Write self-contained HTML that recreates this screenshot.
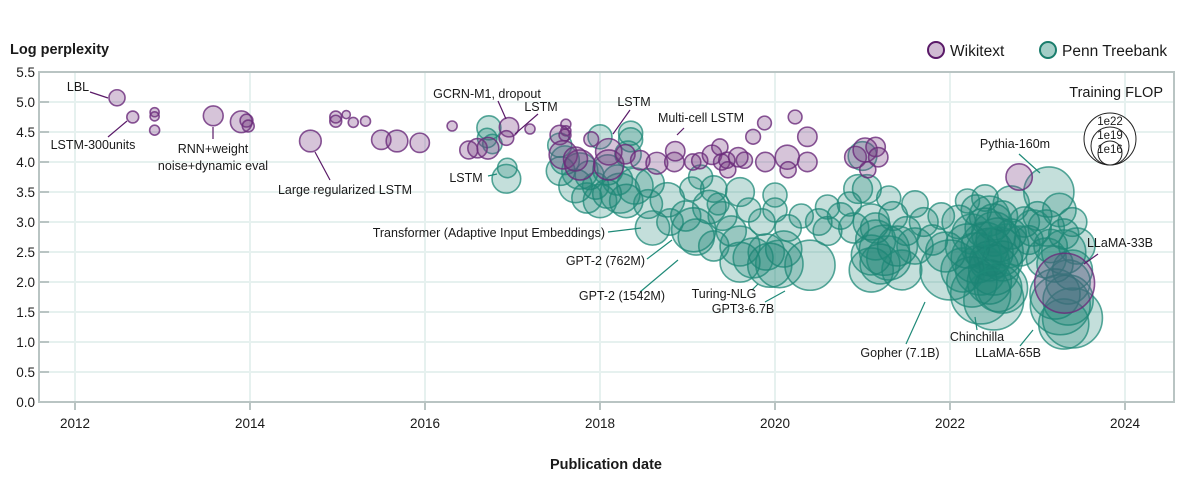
<!DOCTYPE html>
<html><head><meta charset="utf-8"><style>
body{margin:0;background:#fff;font-family:"Liberation Sans",sans-serif;}
svg text{font-family:"Liberation Sans",sans-serif;fill:#1a1a1a;}
</style></head><body>
<svg id="chart" width="1183" height="492" viewBox="0 0 1183 492" xmlns="http://www.w3.org/2000/svg">
<g id="grid"></g>
<rect x="39" y="72" width="1135" height="330" fill="none" stroke="#b9c4c3" stroke-width="2"/>
<g id="ticks"></g>
<g id="bubbles"></g>
<g id="annot" font-size="12.5" stroke-width="1"></g>
<text x="10" y="54" font-size="14.5" font-weight="bold">Log perplexity</text>
<text x="606" y="469" font-size="14.5" font-weight="bold" text-anchor="middle">Publication date</text>
<g>
<circle cx="936" cy="50" r="8" fill="rgba(120,60,130,0.35)" stroke="#5a1a68" stroke-width="2"/>
<text x="950" y="56" font-size="15.5">Wikitext</text>
<circle cx="1048" cy="50" r="8" fill="rgba(26,133,115,0.4)" stroke="#1a7d6c" stroke-width="2"/>
<text x="1062" y="56" font-size="15.5">Penn Treebank</text>
</g>
<g id="sizeLegend">
<text x="1163" y="97" font-size="14.5" text-anchor="end">Training FLOP</text>
</g>
</svg>
<script>
const wikiDates=[2012.48,2012.66,2012.91,2012.91,2012.91,2013.58,2013.9,2013.96,2013.98,2014.69,
2014.98,2014.98,2015.1,2015.18,2015.32,2015.5,2015.68,2015.94,2016.31,2016.5,
2016.6,2016.72,2016.96,2016.93,2017.2,2017.61,2017.61,2017.6,2017.54,2017.58,
2017.77,2017.72,2017.9,2018.1,2018.1,2018.29,2018.46,2018.65,2018.85,2018.86,
2019.06,2019.14,2019.28,2019.37,2019.39,2019.45,2019.46,2019.65,2019.58,2019.89,
2019.88,2019.75,2020.23,2020.37,2020.14,2020.37,2020.15,2020.92,2021.03,2021.15,
2021.18,2021.06,2022.79,2023.31];
const wikiValues=[5.07,4.75,4.83,4.76,4.53,4.77,4.67,4.69,4.6,4.35,
4.75,4.68,4.79,4.66,4.68,4.37,4.35,4.32,4.6,4.2,
4.23,4.23,4.58,4.4,4.55,4.63,4.52,4.45,4.45,4.12,
3.95,4.05,4.38,4.17,3.95,4.13,4.03,3.98,4.0,4.18,
4.0,4.02,4.12,4.25,4.0,4.03,3.87,4.03,4.08,4.0,
4.65,4.42,4.75,4.42,4.08,4.0,3.87,4.08,4.2,4.25,
4.08,3.87,3.75,1.98];
const wikiFlop=[14.3,13.4,12.8,12.8,13,15.1,15.5,13.6,13.4,15.5,
13.4,13.4,12.6,13,13,15,15.5,15,13,14.7,
15,15.5,15,14,13,13,13,13.4,15,16.9,
17.3,16,14,16.5,17.3,15,15,15.5,15,15,
14.3,14.3,15,14.3,14.3,14.3,14.3,14.3,15,15,
13.8,14,13.8,15,16,15,14.3,15.5,16,15,
15,14.3,16.5,23.7];
const ptbDates=[2016.73,2016.71,2016.77,2016.94,2016.93,2017.54,2017.6,2017.55,2017.72,2017.77,
2017.88,2018.0,2018.09,2018.08,2018.35,2018.35,2018.32,2018.23,2018.3,2018.57,
2018.4,2018.77,2018.6,2019.07,2018.98,2019.25,2019.3,2019.15,2019.4,2019.5,
2019.6,2019.94,2020.4,2020.1,2019.7,2019.85,2020.0,2020.15,2020.3,2020.5,
2020.6,2020.75,2020.85,2019.6,2019.35,2020.0,2021.0,2021.05,2021.1,2021.15,
2021.25,2021.2,2021.4,2021.35,2021.5,2021.3,2021.6,2021.7,2021.8,2021.9,
2022.0,2021.95,2022.1,2022.2,2022.25,2022.35,2022.3,2022.4,2022.45,2022.5,
2022.5,2022.55,2022.6,2022.6,2022.7,2022.4,2022.2,2022.7,2022.85,2022.9,
2023.0,2023.13,2023.1,2023.15,2023.2,2023.26,2023.2,2023.35,2023.4,2023.3,
2023.4,2022.45,2022.55,2022.45,2021.1,2019.9,2019.05,2018.55,2018.8,2017.95,
2021.1,2021.15,2021.3,2021.45,2021.6,2022.3,2022.4,2022.5,2022.45,2022.55,
2022.6,2022.35,2022.25,2022.15,2022.65,2022.5,2023.3,2023.35,2023.4,2023.45,
2023.25,2023.1,2023.3,2022.95,2022.8,2019.1,2019.3,2019.6,2019.75,2020.05,
2020.6,2020.9,2020.95,2018.0,2018.2,2017.85];
const ptbValues=[4.57,4.4,4.3,3.9,3.72,4.28,4.03,3.85,3.6,3.85,
3.78,4.42,3.87,3.47,4.48,4.37,4.13,3.48,3.35,3.65,
3.6,3.37,2.9,2.87,3.1,3.25,3.55,3.75,3.1,2.85,
2.33,2.28,2.28,2.55,3.2,3.0,3.2,2.9,3.1,3.0,
3.25,3.1,3.3,3.5,3.3,3.45,4.1,3.55,3.0,2.9,
2.53,2.3,2.6,3.1,2.85,3.4,3.3,3.0,2.7,3.1,
2.2,2.5,3.0,2.6,2.0,1.8,3.2,2.9,2.5,2.2,
3.0,2.7,2.35,3.1,2.8,3.4,3.35,3.3,3.0,2.7,
3.1,3.5,2.9,2.6,2.3,1.62,1.8,1.7,2.2,2.8,
3.0,2.0,1.9,2.35,2.45,2.5,3.55,3.3,3.0,3.6,
2.2,2.7,2.4,2.2,2.6,2.4,2.6,2.8,3.1,2.5,
1.9,2.2,2.8,2.2,2.6,1.7,2.5,2.0,1.4,2.6,
3.2,2.4,1.3,2.9,2.6,2.75,2.6,2.6,2.4,2.3,
2.85,2.9,3.55,3.35,3.7,3.4];
const ptbFlop=[16,15,15,15,17,16,17,17,18,18.6,
17,16,17.3,17,16,16,16.5,19.4,18,17,
18.6,18.2,18.2,20.3,17.3,18,16.5,16,17,17.3,
19.4,20.3,21.6,18.6,16,16.5,16,16.5,16,16.5,
16,16.5,16,17,15.5,16,17,17,18.6,17.3,
21.6,19.4,19.4,17,17,16,16.5,17,17.3,16.5,
23.7,19.4,18,20.3,21.6,23.7,17.3,19.4,21,21.6,
18.6,20.3,19.4,17.3,17.3,16.5,16,18.6,17.3,17,
17,21.6,18.6,18,18.6,23.7,21.6,21.6,19.4,17.3,
17,20.3,21,19.4,19.4,18.6,16,17,16.5,16.5,
20.3,19.4,20.3,19.4,18.6,21.6,21,20.3,19.4,21.6,
21.6,21.6,19.4,20.3,20.3,23.7,20.3,20.3,23.7,18.6,
18,19.4,21.6,18.6,19.4,18.6,17.3,19.4,19.4,21,
17,17.3,17,18,17.3,17.3];
const yTicks=[0,0.5,1,1.5,2,2.5,3,3.5,4,4.5,5,5.5];
const yTickLabels=["0.0","0.5","1.0","1.5","2.0","2.5","3.0","3.5","4.0","4.5","5.0","5.5"];
const xTicks=[2012,2014,2016,2018,2020,2022,2024];
const sizeLegendFlop=[22,19,16];
const sizeLegendLabels=["1e22","1e19","1e16"];

const NS="http://www.w3.org/2000/svg";
function xs(t){return 75+(t-2012)*87.5;}
function ys(v){return 402-v*60;}
function rs(f){return Math.max(3,12+(f-16)*2.33);}
function mk(tag,attrs,parent){const e=document.createElementNS(NS,tag);for(const k in attrs)e.setAttribute(k,attrs[k]);parent.appendChild(e);return e;}
const grid=document.getElementById('grid'),ticks=document.getElementById('ticks');
yTicks.forEach((v,i)=>{
  const l=mk('line',{x1:39,x2:1174,y1:ys(v),y2:ys(v),stroke:'#e6f1ef','stroke-width':2},grid);
  
  
  const t=mk('line',{x1:39,x2:49,y1:ys(v),y2:ys(v),stroke:'#b9c4c3','stroke-width':2},ticks);
  
  
  const tx=mk('text',{x:35,y:ys(v)+5,'font-size':13.5,'text-anchor':'end'},ticks);
  tx.textContent=yTickLabels[i];
  
  
});
xTicks.forEach(t=>{
  const l=mk('line',{x1:xs(t),x2:xs(t),y1:72,y2:402,stroke:'#e6f1ef','stroke-width':2},grid);
  
  
  const k=mk('line',{x1:xs(t),x2:xs(t),y1:402,y2:410,stroke:'#b9c4c3','stroke-width':2},ticks);
  
  
  const tx=mk('text',{x:xs(t),y:428,'font-size':13.5,'text-anchor':'middle'},ticks);
  tx.textContent=t;
  
  
});
const bub=document.getElementById('bubbles');
ptbDates.forEach((d,i)=>{
  const c=mk('circle',{cx:xs(d),cy:ys(ptbValues[i]),r:rs(ptbFlop[i]),fill:'rgba(26,133,115,0.26)',stroke:'#1f8a78','stroke-opacity':0.75,'stroke-width':1.6},bub);
  
  
});
wikiDates.forEach((d,i)=>{
  const c=mk('circle',{cx:xs(d),cy:ys(wikiValues[i]),r:rs(wikiFlop[i]),fill:'rgba(120,60,130,0.3)',stroke:'#6a2a7a','stroke-opacity':0.8,'stroke-width':1.6},bub);
  
  
});
const sl=document.getElementById('sizeLegend');
sizeLegendFlop.forEach((f,i)=>{
  const r=rs(f);
  const c=mk('circle',{cx:1110,cy:165-r,r:r,fill:'#fff',stroke:'#222','stroke-width':1},sl);
  
  
  const t=mk('text',{x:1110,y:165-2*r+12,'font-size':11.5,'text-anchor':'middle'},sl);
  t.textContent=sizeLegendLabels[i];
  
  
});
const annots=[
 ["LBL",78,91,"middle",[90,92,108,98],"#5a1a68"],
 ["LSTM-300units",93,149,"middle",[108,137,127,121],"#5a1a68"],
 ["RNN+weight",213,153,"middle",[213,127,213,139],"#5a1a68"],
 ["noise+dynamic eval",213,170,"middle",null,""],
 ["Large regularized LSTM",345,194,"middle",[315,152,330,180],"#5a1a68"],
 ["GCRN-M1, dropout",487,98,"middle",[498,101,506,119],"#5a1a68"],
 ["LSTM",541,111,"middle",[538,114,515,134],"#5a1a68"],
 ["LSTM",466,182,"middle",[488,176,497,174],"#1f8a78"],
 ["LSTM",634,106,"middle",[630,110,613,134],"#5a1a68"],
 ["Multi-cell LSTM",701,122,"middle",[684,128,677,135],"#5a1a68"],
 ["Pythia-160m",1015,148,"middle",[1019,154,1040,173],"#1f8a78"],
 ["Transformer (Adaptive Input Embeddings)",605,237,"end",[608,232,641,228],"#1f8a78"],
 ["GPT-2 (762M)",645,265,"end",[647,259,672,240],"#1f8a78"],
 ["GPT-2 (1542M)",665,300,"end",[640,292,678,260],"#1f8a78"],
 ["Turing-NLG",724,298,"middle",[752,290,758,284],"#1f8a78"],
 ["GPT3-6.7B",743,313,"middle",[765,302,785,291],"#1f8a78"],
 ["Gopher (7.1B)",900,357,"middle",[906,344,925,302],"#1f8a78"],
 ["Chinchilla",977,341,"middle",[977,330,975,317],"#1f8a78"],
 ["LLaMA-65B",1008,357,"middle",[1020,346,1033,330],"#1f8a78"],
 ["LLaMA-33B",1120,247,"middle",[1098,254,1084,264],"#5a1a68"]
];
const ag=document.getElementById('annot');
annots.forEach(a=>{
  if(a[4]){const l=mk('line',{x1:a[4][0],y1:a[4][1],x2:a[4][2],y2:a[4][3],stroke:a[5],'stroke-width':1.2},ag);
  
  }
  const t=mk('text',{x:a[1],y:a[2],'text-anchor':a[3],'font-size':12.5},ag);
  t.textContent=a[0];
  
  
});
</script>
</body></html>
